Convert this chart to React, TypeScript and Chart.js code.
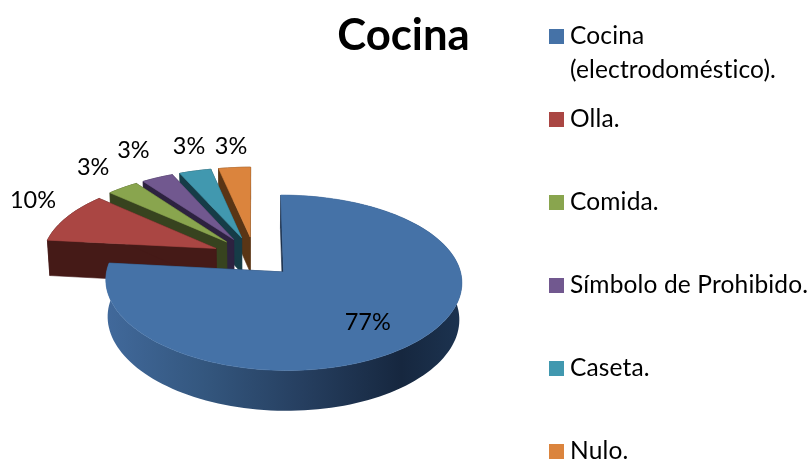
import React, { useEffect, useRef } from "react";
import { Chart, registerables } from "chart.js";

Chart.register(...registerables);

const titleText = "Cocina";
const categories = [
  "Cocina (electrodoméstico).",
  "Olla.",
  "Comida.",
  "Símbolo de Prohibido.",
  "Caseta.",
  "Nulo.",
];
const legendLines = [
  ["Cocina", "(electrodoméstico)."],
  ["Olla."],
  ["Comida."],
  ["Símbolo de Prohibido."],
  ["Caseta."],
  ["Nulo."],
];
const seriesValues = [23, 3, 1, 1, 1, 1];
const topColors = ["#4572A7", "#AA4643", "#89A54E", "#71588F", "#4198AF", "#DB843D"];
const wallColors = ["#1B2F4A", "#451A17", "#37431F", "#2D2240", "#163C47", "#5A3515"];
const blueWallStops = ["#41699B", "#34577F", "#263F60", "#16273F", "#1C3350"];

const WIDTH = 810;
const HEIGHT = 459;
const CX = 254.5;
const CY = 256.6;
const RADIUS = 173.6;
const EXPLODE = 0.245;
const TILT = 0.476;
const PERSP = 0.12;
const PERSP_X = 0.105;
const DEPTH = 36.5;
const DEPTH_PERSP = 0.012;
const FONT = "Lato, Carlito, Calibri, sans-serif";
const labelNudges = [
  [-47, -20.5],
  [-34, -17],
  [-29.5, -20],
  [-24, -27],
  [-6, -25],
  [-3.5, -21.5],
];

type Pt = { x: number; y: number };

function project(arc: any, u: number, v: number, low: boolean): Pt {
  const R = arc.outerRadius;
  const extra = low ? DEPTH_PERSP : 0;
  return {
    x: arc.x + (R * u) / (1 - PERSP_X * v + extra),
    y: arc.y + (TILT * R * v + (low ? DEPTH : 0)) / (1 - PERSP * v + extra),
  };
}

function outline(arc: any) {
  const mid = (arc.startAngle + arc.endAngle) / 2;
  const ou = EXPLODE * Math.cos(mid);
  const ov = EXPLODE * Math.sin(mid);
  const uv: [number, number][] = [[ou, ov]];
  const n = Math.max(4, Math.ceil(((arc.endAngle - arc.startAngle) * 180) / Math.PI / 2));
  for (let i = 0; i <= n; i++) {
    const a = arc.startAngle + ((arc.endAngle - arc.startAngle) * i) / n;
    uv.push([ou + Math.cos(a), ov + Math.sin(a)]);
  }
  return uv;
}

function fillPoly(ctx: CanvasRenderingContext2D, pts: Pt[], fill: any, seal: boolean) {
  ctx.beginPath();
  pts.forEach((p, i) => (i ? ctx.lineTo(p.x, p.y) : ctx.moveTo(p.x, p.y)));
  ctx.closePath();
  ctx.fillStyle = fill;
  ctx.fill();
  if (seal) {
    ctx.strokeStyle = fill;
    ctx.lineWidth = 0.6;
    ctx.stroke();
  }
}

function drawSlice(ctx: CanvasRenderingContext2D, arc: any, index: number) {
  const uv = outline(arc);
  const top = uv.map(([u, v]) => project(arc, u, v, false));
  const low = uv.map(([u, v]) => project(arc, u, v, true));
  let wallFill: any = wallColors[index];
  if (index === 0) {
    const g = ctx.createLinearGradient(106, 0, 462, 0);
    blueWallStops.forEach((c, i) => g.addColorStop([0, 0.27, 0.55, 0.83, 1][i], c));
    wallFill = g;
  }
  // The rim as one band, so the gradient has no seams.
  const rimTop = top.slice(1);
  const rimLow = low.slice(1).reverse();
  fillPoly(ctx, [...rimTop, ...rimLow], wallFill, index !== 0);
  // The two flat cut faces.
  const last = top.length - 1;
  fillPoly(ctx, [top[0], top[1], low[1], low[0]], wallColors[index], true);
  fillPoly(ctx, [top[0], top[last], low[last], low[0]], wallColors[index], true);
  fillPoly(ctx, top, arc.options.backgroundColor, true);
}

const pie3dPlugin = {
  id: "pie3d",
  beforeDatasetsDraw(chart: any) {
    const ctx = chart.ctx;
    const arcs = chart.getDatasetMeta(0).data;
    for (let i = arcs.length - 1; i >= 0; i--) drawSlice(ctx, arcs[i], i);
    return false;
  },
  afterDraw(chart: any) {
    const ctx: any = chart.ctx;
    const arcs = chart.getDatasetMeta(0).data;
    const total = seriesValues.reduce((a, b) => a + b, 0);
    ctx.save();
    ctx.fillStyle = "#000";
    ctx.textAlign = "center";
    ctx.textBaseline = "middle";
    ctx.font = `23.5px ${FONT}`;
    arcs.forEach((arc: any, i: number) => {
      const mid = (arc.startAngle + arc.endAngle) / 2;
      const p = project(arc, (EXPLODE + 1) * Math.cos(mid), (EXPLODE + 1) * Math.sin(mid), false);
      const text = `${Math.round((seriesValues[i] / total) * 100)}%`;
      ctx.fillText(text, p.x + labelNudges[i][0], p.y + labelNudges[i][1]);
    });
    ctx.font = `bold 43.7px ${FONT}`;
    ctx.textBaseline = "alphabetic";
    ctx.fillText(titleText, 403.5, 49.5);
    ctx.textAlign = "left";
    ctx.font = `24.5px ${FONT}`;
    ctx.letterSpacing = "0.15px";
    legendLines.forEach((lines, i) => {
      const cy = 36.5 + 83 * i;
      ctx.fillStyle = topColors[i];
      ctx.fillRect(549, cy - 7.5, 15, 15);
      ctx.fillStyle = "#000";
      lines.forEach((line, k) => ctx.fillText(line, 570, cy + 7.5 + 34 * k));
    });
    ctx.restore();
  },
};

export default function App() {
  const ref = useRef<HTMLCanvasElement>(null);
  useEffect(() => {
    const chart = new Chart(ref.current as HTMLCanvasElement, {
      type: "pie",
      data: {
        labels: categories,
        datasets: [{ data: seriesValues, backgroundColor: topColors, borderWidth: 0 }],
      },
      options: {
        responsive: false,
        animation: false,
        layout: {
          padding: {
            left: CX - RADIUS,
            right: WIDTH - CX - RADIUS,
            top: CY - RADIUS,
            bottom: HEIGHT - CY - RADIUS,
          },
        },
        plugins: { legend: { display: false }, title: { display: false }, tooltip: { enabled: false } },
      },
      plugins: [pie3dPlugin],
    } as any);
    return () => chart.destroy();
  }, []);
  return (
    <div style={{ position: "fixed", left: 0, top: 0, width: WIDTH, height: HEIGHT, background: "#fff" }}>
      <canvas ref={ref} width={WIDTH} height={HEIGHT} style={{ display: "block" }} />
    </div>
  );
}
